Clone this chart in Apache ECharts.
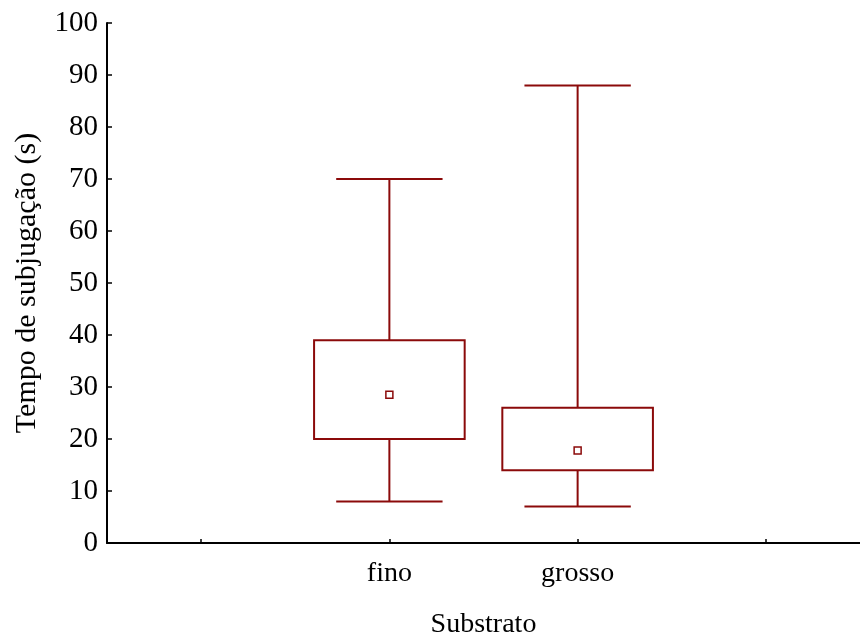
<!DOCTYPE html>
<html>
<head>
<meta charset="utf-8">
<script src="https://cdn.jsdelivr.net/npm/echarts@6/dist/echarts.min.js"></script>
<style>html,body{margin:0;padding:0;background:#fff;overflow:hidden;width:100%;height:100%;}#c{width:100vw;height:100vh;}</style>
</head>
<body>
<div id="c"></div>
<script>
const categories = ['fino', 'grosso'];
const whiskerLow = [8, 7];
const boxLow = [20, 14];
const boxHigh = [39, 26];
const whiskerHigh = [70, 88];
const centerPoint = [28.5, 17.8];
const yTicks = [0, 10, 20, 30, 40, 50, 60, 70, 80, 90, 100];

const axisCats = [''].concat(categories).concat(['']);
const seriesData = categories.map((c, i) => [i + 1, whiskerLow[i], boxLow[i], boxHigh[i], whiskerHigh[i], centerPoint[i]]);

const col = '#8b0a0a';
const font = '"Liberation Serif", "Times New Roman", serif';

function renderItem(params, api) {
  const x = api.value(0);
  const bw = api.size([1, 0])[0];
  const pLow = api.coord([x, api.value(1)]);
  const pQ1 = api.coord([x, api.value(2)]);
  const pQ3 = api.coord([x, api.value(3)]);
  const pHigh = api.coord([x, api.value(4)]);
  const pMid = api.coord([x, api.value(5)]);
  const cx = pLow[0];
  const boxW = bw * 0.8;
  const capW = bw * 0.565;
  const st = { stroke: col, lineWidth: 2, fill: null };
  const sq = 7;
  return {
    type: 'group',
    children: [
      { type: 'line', shape: { x1: cx, y1: pLow[1], x2: cx, y2: pQ1[1] }, style: st },
      { type: 'line', shape: { x1: cx, y1: pQ3[1], x2: cx, y2: pHigh[1] }, style: st },
      { type: 'line', shape: { x1: cx - capW / 2, y1: pLow[1], x2: cx + capW / 2, y2: pLow[1] }, style: st },
      { type: 'line', shape: { x1: cx - capW / 2, y1: pHigh[1], x2: cx + capW / 2, y2: pHigh[1] }, style: st },
      { type: 'rect', shape: { x: cx - boxW / 2, y: pQ3[1], width: boxW, height: pQ1[1] - pQ3[1] }, style: { stroke: col, lineWidth: 2, fill: '#fff' } },
      { type: 'rect', shape: { x: cx - sq / 2, y: pMid[1] - sq / 2, width: sq, height: sq }, style: { stroke: col, lineWidth: 1.5, fill: '#fff' } }
    ]
  };
}

const chart = echarts.init(document.getElementById('c'), null, { renderer: 'canvas' });
const W = chart.getWidth(), H = chart.getHeight();
const sx = W / 860, sy = H / 644, sf = Math.min(sx, sy);
chart.setOption({
  backgroundColor: '#fff',
  animation: false,
  grid: { left: 107 * sx, top: 23 * sy, width: 761 * sx, height: 529 * sy, containLabel: false },
  xAxis: {
    type: 'category',
    data: axisCats,
    boundaryGap: true,
    name: 'Substrato',
    nameLocation: 'middle',
    nameGap: 68 * sy,
    nameTextStyle: { fontFamily: font, fontSize: 28 * sf, color: '#000' },
    axisLine: { lineStyle: { color: '#000', width: 2 } },
    axisTick: { show: true, inside: true, length: 4, alignWithLabel: true, lineStyle: { color: '#000', width: 1.5 } },
    axisLabel: { fontFamily: font, fontSize: 28 * sf, color: '#000', margin: 17 * sy, interval: 0 },
    splitLine: { show: false }
  },
  yAxis: {
    type: 'value',
    min: 0,
    max: 100,
    interval: 10,
    name: 'Tempo de subjugação (s)',
    nameLocation: 'middle',
    nameGap: 65 * sx,
    nameRotate: 90,
    nameTextStyle: { fontFamily: font, fontSize: 30 * sf, color: '#000' },
    axisLine: { show: true, lineStyle: { color: '#000', width: 2 } },
    axisTick: { show: true, inside: true, length: 5, lineStyle: { color: '#000', width: 1.5 } },
    axisLabel: { fontFamily: font, fontSize: 29 * sf, color: '#000', margin: 9 * sx,
      formatter: v => (yTicks.indexOf(v) >= 0 ? String(v) : '') },
    splitLine: { show: false }
  },
  series: [{
    type: 'custom',
    renderItem: renderItem,
    data: seriesData,
    encode: { x: 0, y: [1, 2, 3, 4, 5] },
    clip: false
  }]
});
</script>
</body>
</html>
